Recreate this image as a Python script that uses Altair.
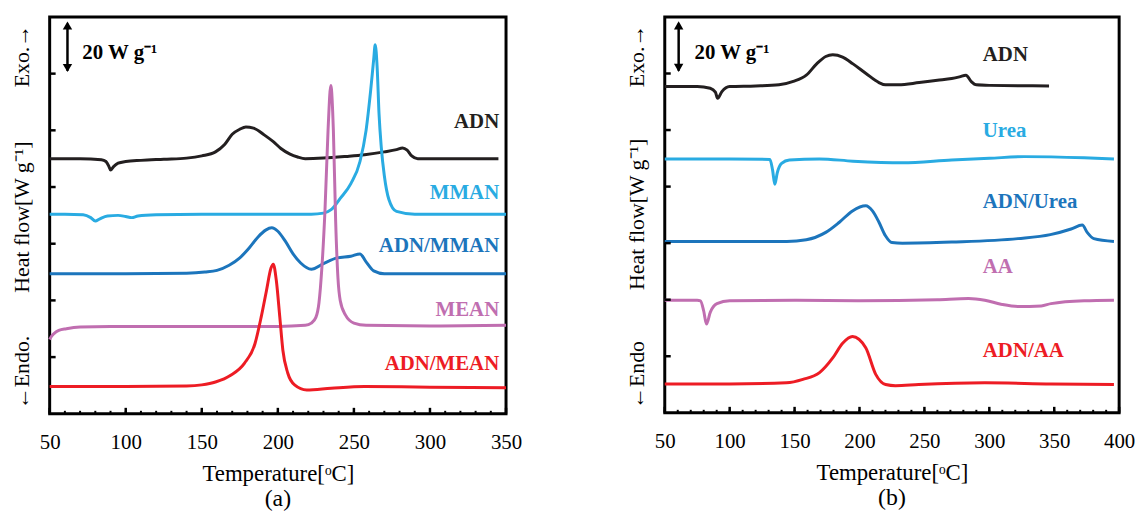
import altair as alt
import pandas as pd

SERIF = "Liberation Serif"
BLACK = "#231F20"
LBLUE = "#29ABE2"
BLUE = "#1C75BC"
PURPLE = "#C06EB0"
RED = "#ED1C24"

# ---------------- panel (a) ----------------
ADN_A_T = [50, 70, 84, 87, 89, 90, 92, 95, 100, 110, 125, 140, 150, 159, 165, 170, 175, 179, 184, 191, 197, 202, 208, 213, 218, 230, 245, 257, 270, 278, 282, 285, 288, 292, 300, 320, 345]
ADN_A_V = [4.50, 4.50, 4.48, 4.45, 4.36, 4.30, 4.36, 4.42, 4.45, 4.47, 4.49, 4.51, 4.55, 4.62, 4.75, 4.93, 5.02, 5.06, 5.04, 4.92, 4.80, 4.68, 4.58, 4.53, 4.50, 4.51, 4.54, 4.57, 4.62, 4.66, 4.69, 4.65, 4.55, 4.50, 4.50, 4.50, 4.50]

MMAN_T = [50, 60, 72, 77, 80, 83, 88, 95, 100, 104, 108, 120, 150, 200, 222, 230, 235, 241, 248, 254, 258, 261, 263, 264, 265.3, 266.5, 268, 270, 273, 278, 290, 320, 350]
MMAN_V = [3.52, 3.52, 3.51, 3.46, 3.40, 3.44, 3.49, 3.50, 3.48, 3.46, 3.49, 3.51, 3.52, 3.52, 3.52, 3.54, 3.60, 3.80, 4.06, 4.45, 5.00, 5.70, 6.25, 6.51, 6.10, 5.30, 4.70, 4.20, 3.78, 3.57, 3.52, 3.52, 3.52]

ADN_MMAN_T = [50, 100, 140, 152, 160, 168, 175, 181, 187, 192, 196, 200, 205, 210, 215, 222, 230, 239, 248, 254, 258, 263, 270, 290, 350]
ADN_MMAN_V = [2.47, 2.47, 2.48, 2.50, 2.53, 2.62, 2.75, 2.92, 3.12, 3.24, 3.28, 3.22, 3.04, 2.82, 2.66, 2.55, 2.65, 2.75, 2.78, 2.82, 2.68, 2.52, 2.47, 2.47, 2.47]

MEAN_T = [50, 51, 53, 56, 61, 70, 90, 150, 200, 218, 222, 225, 227, 229, 231, 233, 234.8, 236.5, 238, 239.5, 241, 244.5, 250, 258, 300, 350]
MEAN_V = [1.31, 1.36, 1.42, 1.47, 1.50, 1.53, 1.54, 1.54, 1.54, 1.56, 1.60, 1.70, 1.95, 2.60, 3.60, 5.00, 5.79, 5.00, 3.40, 2.40, 2.00, 1.74, 1.60, 1.56, 1.55, 1.56]

ADN_MEAN_T = [50, 100, 140, 150, 159, 169, 178, 185, 189, 192.5, 195.5, 197, 199, 201.3, 203.3, 206.5, 211, 219, 235, 257, 300, 350]
ADN_MEAN_V = [0.48, 0.48, 0.49, 0.51, 0.56, 0.68, 0.89, 1.24, 1.70, 2.17, 2.57, 2.64, 2.35, 1.70, 1.12, 0.72, 0.51, 0.42, 0.45, 0.48, 0.47, 0.46]

LABELS_A = ["ADN", "MMAN", "ADN/MMAN", "MEAN", "ADN/MEAN"]
LABELS_A_Y = [5.15, 3.89, 2.96, 1.83, 0.87]
COLORS_A = [BLACK, LBLUE, BLUE, PURPLE, RED]

# ---------------- panel (b) ----------------
ADN_B_T = [50, 75, 85, 89, 90.7, 94, 100, 120, 138, 149, 159, 167, 174, 179.4, 187, 195, 205, 215, 220, 230, 246, 260, 271, 277, 282, 286, 290, 300, 346]
ADN_B_V = [5.77, 5.77, 5.74, 5.67, 5.56, 5.68, 5.77, 5.78, 5.80, 5.86, 5.97, 6.17, 6.30, 6.33, 6.29, 6.17, 6.00, 5.84, 5.80, 5.80, 5.84, 5.88, 5.91, 5.94, 5.97, 5.86, 5.80, 5.79, 5.78]

UREA_T = [50, 100, 131, 133, 134.8, 136.6, 140, 146, 169, 195, 233, 271, 300, 327, 373, 396]
UREA_V = [4.49, 4.49, 4.48, 4.30, 4.04, 4.24, 4.41, 4.47, 4.49, 4.45, 4.42, 4.47, 4.50, 4.53, 4.51, 4.49]

ADN_UREA_T = [50, 100, 144, 159, 174, 184.5, 194.6, 204.8, 210, 215, 220, 225, 233, 271, 322, 347, 363, 371.6, 375.4, 380.5, 396]
ADN_UREA_V = [3.03, 3.03, 3.03, 3.06, 3.19, 3.37, 3.57, 3.66, 3.57, 3.37, 3.13, 3.01, 3.00, 3.02, 3.08, 3.15, 3.25, 3.32, 3.19, 3.08, 3.03]

AA_T = [50, 75, 77.5, 80, 82.1, 85.1, 90.2, 100, 150, 200, 260, 284, 296.5, 309, 322, 340, 347.5, 373, 396]
AA_V = [1.99, 1.99, 1.98, 1.80, 1.57, 1.78, 1.93, 1.98, 1.99, 1.98, 2.00, 2.02, 1.99, 1.92, 1.88, 1.89, 1.93, 1.98, 1.99]

ADN_AA_T = [50, 100, 143.7, 156.4, 169.2, 179.4, 187, 194.6, 204.8, 212.5, 220.1, 227.7, 245.6, 296.5, 347.5, 396]
ADN_AA_V = [0.51, 0.51, 0.53, 0.59, 0.71, 0.97, 1.23, 1.35, 1.15, 0.68, 0.50, 0.48, 0.50, 0.53, 0.51, 0.50]

LABELS_B = ["ADN", "Urea", "ADN/Urea", "AA", "ADN/AA"]
LABELS_B_Y = [6.32, 4.98, 3.73, 2.58, 1.10]
COLORS_B = [BLACK, LBLUE, BLUE, PURPLE, RED]

Y_TICKS = [1, 2, 3, 4, 5, 6]


def curves(spec):
    frames = []
    for name, color, T, V in spec:
        frames.append(pd.DataFrame({"T": T, "V": V, "series": name, "color": color}))
    return pd.concat(frames, ignore_index=True)


def panel(df, labels, label_y, label_colors, label_x, label_align, xdom, xmajor,
          arrow_x, bar_text_x, ytitle_texts, ytitle_y, tag, width, height):
    xs = alt.Scale(domain=xdom, nice=False, zero=False)
    ys = alt.Scale(domain=[0, 7], nice=False, zero=False)
    xminor = list(range(xdom[0], xdom[1] + 1, 10))

    lines = alt.Chart(df).mark_line(strokeWidth=3, interpolate="monotone").encode(
        x=alt.X("T:Q", scale=xs, axis=alt.Axis(
            values=xmajor, title="Temperature[ᵒC]", ticks=False, domain=False, grid=False,
            labelFlush=False, labelOverlap=False, labelFont=SERIF, labelFontSize=21,
            labelColor="black", labelPadding=18, titleFont=SERIF, titleFontSize=23,
            titleFontWeight="normal", titleColor="black", titlePadding=10)),
        y=alt.Y("V:Q", scale=ys, axis=None),
        color=alt.Color("color:N", scale=None),
        detail="series:N",
    )

    lab_df = pd.DataFrame({"label": labels, "y": label_y, "color": label_colors, "x": label_x})
    labs = alt.Chart(lab_df).mark_text(font=SERIF, fontSize=21, fontWeight="bold",
                                       align=label_align, baseline="middle").encode(
        x=alt.X("x:Q", scale=xs), y=alt.Y("y:Q", scale=ys),
        text="label:N", color=alt.Color("color:N", scale=None))

    yt = alt.Chart(pd.DataFrame({"v": Y_TICKS})).mark_rule(strokeWidth=2.5, color="black").encode(
        y=alt.Y("v:Q", scale=ys), x=alt.value(0), x2=alt.value(6))
    xt_major = alt.Chart(pd.DataFrame({"v": xmajor})).mark_rule(strokeWidth=2.5, color="black").encode(
        x=alt.X("v:Q", scale=xs), y=alt.value(height), y2=alt.value(height - 6))
    xt_minor = alt.Chart(pd.DataFrame({"v": xminor})).mark_rule(strokeWidth=2, color="black").encode(
        x=alt.X("v:Q", scale=xs), y=alt.value(height), y2=alt.value(height - 3))

    bar = alt.Chart(pd.DataFrame({"x": [arrow_x], "y": [6.05], "y2": [6.88]})).mark_rule(
        strokeWidth=2.5, color="black").encode(
        x=alt.X("x:Q", scale=xs), y=alt.Y("y:Q", scale=ys), y2="y2:Q")
    heads = alt.Chart(pd.DataFrame({"x": [arrow_x, arrow_x], "y": [6.85, 6.10],
                                    "s": ["triangle-up", "triangle-down"]})).mark_point(
        filled=True, color="black", opacity=1, size=90).encode(
        x=alt.X("x:Q", scale=xs), y=alt.Y("y:Q", scale=ys),
        shape=alt.Shape("s:N", scale=None))
    bar_txt = alt.Chart(pd.DataFrame({"x": [bar_text_x], "y": [6.37], "t": ["20 W g⁻¹"]})).mark_text(
        font=SERIF, fontSize=21, fontWeight="bold", align="left", baseline="middle", color="black").encode(
        x=alt.X("x:Q", scale=xs), y=alt.Y("y:Q", scale=ys), text="t:N")

    ytl = alt.Chart(pd.DataFrame({"t": ytitle_texts, "y": ytitle_y})).mark_text(
        font=SERIF, fontSize=22, angle=270, align="center", baseline="middle", color="black").encode(
        x=alt.value(-28), y=alt.Y("y:Q", scale=ys), text="t:N")

    return alt.layer(lines, labs, yt, xt_major, xt_minor, bar, heads, bar_txt, ytl).properties(
        width=width, height=height,
        title=alt.TitleParams(tag, orient="bottom", font=SERIF, fontSize=24, fontWeight="normal",
                              color="black", anchor="middle", frame="group", offset=2),
    )


df_a = curves([
    ("ADN", BLACK, ADN_A_T, ADN_A_V),
    ("MMAN", LBLUE, MMAN_T, MMAN_V),
    ("ADN/MMAN", BLUE, ADN_MMAN_T, ADN_MMAN_V),
    ("MEAN", PURPLE, MEAN_T, MEAN_V),
    ("ADN/MEAN", RED, ADN_MEAN_T, ADN_MEAN_V),
])
df_b = curves([
    ("ADN", BLACK, ADN_B_T, ADN_B_V),
    ("Urea", LBLUE, UREA_T, UREA_V),
    ("ADN/Urea", BLUE, ADN_UREA_T, ADN_UREA_V),
    ("AA", PURPLE, AA_T, AA_V),
    ("ADN/AA", RED, ADN_AA_T, ADN_AA_V),
])

pa = panel(df_a, LABELS_A, LABELS_A_Y, COLORS_A, 345.5, "right", [50, 350],
           [50, 100, 150, 200, 250, 300, 350], 61.7, 71.5,
           ["Exo.→", "Heat flow[W g⁻¹]", "←Endo."], [6.31, 3.47, 0.73], "(a)", 460, 400)
pb = panel(df_b, LABELS_B, LABELS_B_Y, COLORS_B, 295, "left", [50, 400],
           [50, 100, 150, 200, 250, 300, 350, 400], 60.7, 72.9,
           ["Exo.→", "Heat flow[W g⁻¹]", "←Endo"], [6.31, 3.51, 0.67], "(b)", 458, 399)

chart = alt.hconcat(pa, pb, spacing=101).resolve_scale(
    x="independent", y="independent", color="independent", shape="independent"
).properties(
    padding={"left": 1, "top": 5, "right": 0, "bottom": 0},
    background="white",
).configure_view(stroke="black", strokeWidth=3)

chart.save("out.html", embed_options={"renderer": "svg", "actions": False})
